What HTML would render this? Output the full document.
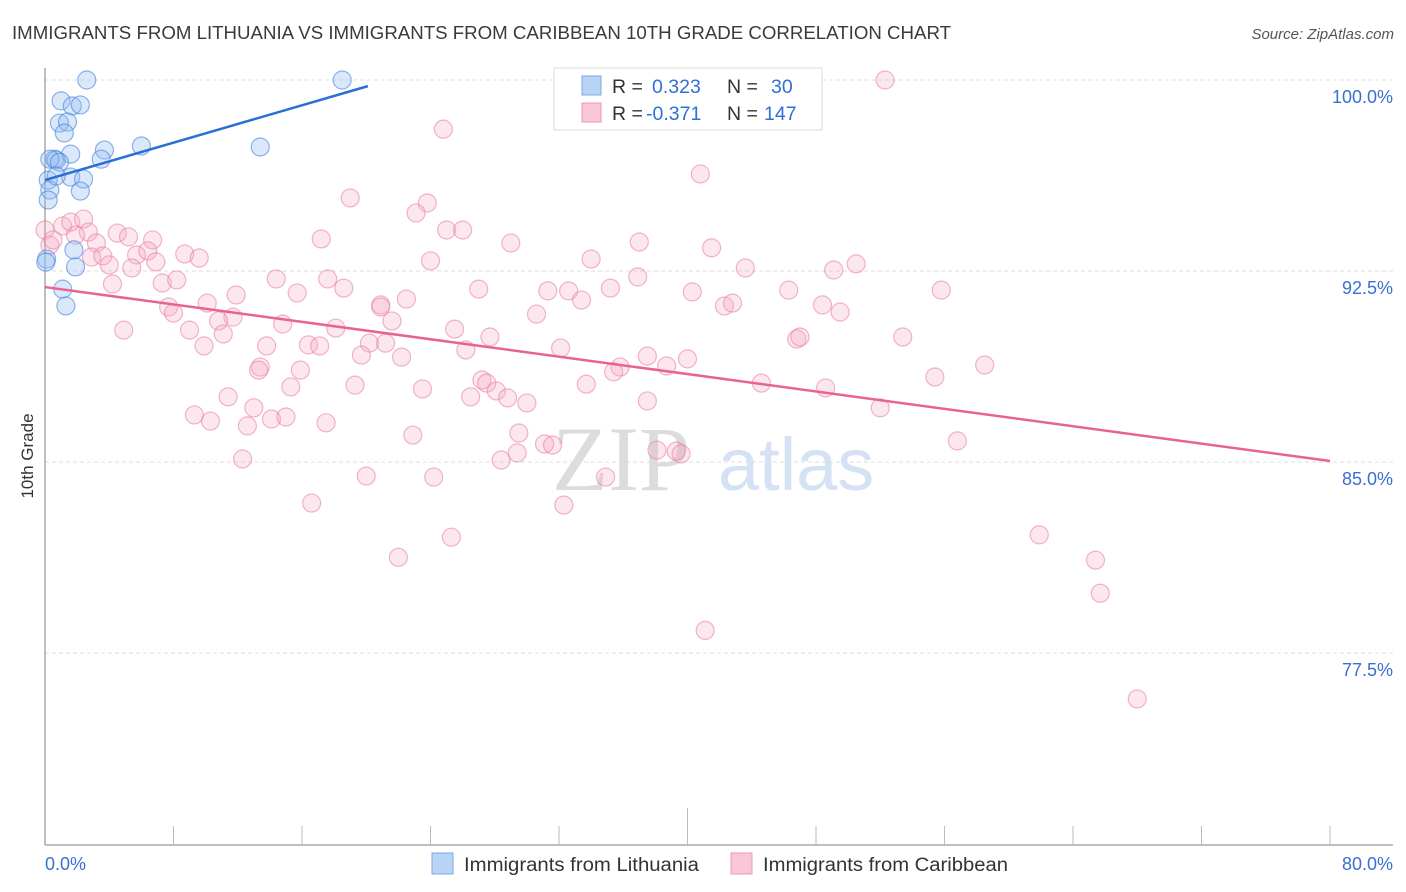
<!DOCTYPE html>
<html><head><meta charset="utf-8">
<style>
body{margin:0;background:#fff;font-family:"Liberation Sans",sans-serif;}
svg{display:block}
</style></head>
<body>
<svg id="chart" width="1406" height="892" xmlns="http://www.w3.org/2000/svg">
<text x="12" y="39" font-size="18" fill="#3a3a3a" textLength="939" lengthAdjust="spacingAndGlyphs">IMMIGRANTS FROM LITHUANIA VS IMMIGRANTS FROM CARIBBEAN 10TH GRADE CORRELATION CHART</text>
<text x="1394" y="39" font-size="15" fill="#555" text-anchor="end" font-style="italic">Source: ZipAtlas.com</text>
<g>
<text x="552" y="490" font-size="92" fill="#dcdcdc" font-family="Liberation Serif,serif">ZIP</text>
<text x="718" y="490" font-size="74" fill="#d4e2f4">atlas</text>
</g>
<g id="grid"></g>
<g id="axes"></g>
<g id="pts"></g>
<text transform="translate(33,456) rotate(-90)" font-size="17" fill="#333" text-anchor="middle">10th Grade</text>
<g>
<rect x="554" y="68" width="268" height="62" fill="#fff" stroke="#ddd"/>
<rect x="582" y="76" width="19" height="19" fill="#b8d4f5" stroke="#7aaae6"/>
<rect x="582" y="103" width="19" height="19" fill="#f9c6d6" stroke="#ec9ab5"/>
<text x="612" y="93" font-size="19.5" fill="#333">R = <tspan fill="#2f6fd6" x="652">0.323</tspan><tspan x="727">N = </tspan><tspan fill="#2f6fd6" x="771">30</tspan></text>
<text x="612" y="120" font-size="19.5" fill="#333">R = <tspan fill="#2f6fd6" x="646">-0.371</tspan><tspan x="727">N = </tspan><tspan fill="#2f6fd6" x="764">147</tspan></text>
</g>
<g>
<rect x="432" y="853" width="21" height="21" fill="#b8d4f5" stroke="#7aaae6"/>
<text x="464" y="871" font-size="19" fill="#333" textLength="235" lengthAdjust="spacingAndGlyphs">Immigrants from Lithuania</text>
<rect x="731" y="853" width="21" height="21" fill="#f9c6d6" stroke="#ec9ab5"/>
<text x="763" y="871" font-size="19" fill="#333" textLength="245" lengthAdjust="spacingAndGlyphs">Immigrants from Caribbean</text>
</g>
</svg>
<script>
const yTicks=[100,92.5,85,77.5];
const yTickLabels=["100.0%","92.5%","85.0%","77.5%"];
const xTickLabels=["0.0%","80.0%"];
const blueX=[2.6,18.5,1.0,1.7,2.2,0.9,1.4,1.2,3.7,6.0,13.4,1.6,3.5,0.6,0.7,0.3,0.9,0.2,1.6,2.4,0.3,2.2,0.2,0.1,1.8,1.9,1.1,1.3,0.05,0.7];
const blueY=[100,100,99.18,98.98,99.02,98.31,98.35,97.92,97.25,97.41,97.37,97.09,96.89,96.89,96.86,96.89,96.77,96.07,96.19,96.11,95.68,95.64,95.29,92.97,93.33,92.66,91.79,91.13,92.85,96.23];
const pinkX=[52.3,24.8,40.8,19.0,23.8,23.1,25.0,26.0,0.0,1.1,1.6,2.4,2.7,1.9,4.5,5.2,6.7,3.2,0.3,0.5,17.2,29.0,37.0,41.5,8.7,9.6,2.9,3.6,5.7,6.4,6.9,4.0,5.4,24.0,34.0,43.6,49.1,50.5,14.4,17.6,18.6,7.3,8.2,4.2,15.7,27.0,31.3,32.6,35.2,36.9,40.3,46.3,55.8,11.9,10.1,7.7,8.0,20.9,22.5,20.9,30.6,33.4,42.3,42.8,48.4,49.5,11.7,10.8,9.0,4.9,11.1,14.8,18.1,21.6,25.5,27.7,16.4,17.1,13.8,9.9,20.2,21.2,19.7,22.2,26.2,32.1,37.5,40.0,35.8,35.4,38.7,46.8,47.0,53.4,13.4,13.3,15.9,15.3,33.7,27.2,27.5,28.1,28.8,19.3,23.5,26.5,30.0,11.4,13.0,9.3,10.3,14.1,15.0,37.5,44.6,48.6,55.4,58.5,52.0,17.5,29.5,12.6,22.9,31.1,31.6,29.4,28.4,12.3,38.1,39.3,39.6,56.8,20.0,24.2,34.9,16.6,32.3,25.3,22.0,61.9,65.4,65.7,41.1,68.0];
const pinkY=[100,98.07,96.31,95.37,95.17,94.78,94.11,94.11,94.11,94.27,94.42,94.54,94.03,93.91,93.99,93.84,93.72,93.60,93.52,93.72,93.76,93.60,93.64,93.41,93.17,93.01,93.05,93.09,93.13,93.29,92.86,92.74,92.62,92.90,92.97,92.62,92.54,92.78,92.19,92.19,91.83,92.03,92.15,91.99,91.64,91.79,91.72,91.72,91.83,92.27,91.68,91.75,91.75,91.56,91.24,91.09,90.85,91.17,91.40,91.09,90.81,91.36,91.13,91.24,91.17,90.89,90.69,90.54,90.18,90.18,90.03,90.42,90.26,90.54,90.22,89.91,89.60,89.56,89.56,89.56,89.67,89.67,89.20,89.12,89.40,89.48,89.16,89.05,88.73,88.54,88.77,89.83,89.91,89.91,88.73,88.61,88.61,87.95,88.06,88.22,88.10,87.79,87.52,88.02,87.87,87.56,87.32,87.56,87.13,86.85,86.61,86.69,86.77,87.40,88.10,87.91,88.34,88.81,87.13,86.54,86.14,86.42,86.06,85.71,85.67,85.36,85.08,85.12,85.47,85.43,85.32,85.83,84.45,84.41,84.41,83.39,83.31,82.05,81.26,82.14,81.15,79.85,78.39,75.70];
const blueTrend=[0,96.07,20.1,99.76];
const pinkTrend=[0,91.87,80,85.04];

const NS="http://www.w3.org/2000/svg";
const X0=45,X1=1330,Y100=80,PXPER=25.47,YB=845;
const sx=v=>X0+(X1-X0)*v/80;
const sy=v=>Y100+(100-v)*PXPER;
function mk(tag,attrs,parent){const e=document.createElementNS(NS,tag);for(const k in attrs)e.setAttribute(k,attrs[k]);parent.appendChild(e);return e;}
const grid=document.getElementById('grid'),axes=document.getElementById('axes'),pts=document.getElementById('pts');
yTicks.forEach((t,i)=>{
  const l=mk('line',{x1:X0,x2:1393,y1:sy(t),y2:sy(t),stroke:'#ddd','stroke-dasharray':'4,3'},grid);
  
  
  const tx=mk('text',{x:1393,y:sy(t)+23,'font-size':18,fill:'#3a6fd2','text-anchor':'end'},axes);
  tx.textContent=yTickLabels[i];
  
  
});
mk('line',{x1:X0,x2:X0,y1:68,y2:YB,stroke:'#aaa','stroke-width':1.5},axes);
mk('line',{x1:X0,x2:1393,y1:YB,y2:YB,stroke:'#aaa','stroke-width':1.5},axes);
for(let i=1;i<=10;i++){const x=sx(i*8);mk('line',{x1:x,x2:x,y1:i==5?808:826,y2:YB,stroke:'#bbb'},axes);}
const xl0=mk('text',{x:45,y:870,'font-size':18,fill:'#3a6fd2'},axes);xl0.textContent=xTickLabels[0];


const xl1=mk('text',{x:1393,y:870,'font-size':18,fill:'#3a6fd2','text-anchor':'end'},axes);xl1.textContent=xTickLabels[1];


pinkX.forEach((v,i)=>{
  const c=mk('circle',{cx:sx(v),cy:sy(pinkY[i]),r:9,fill:'rgba(246,170,195,0.28)',stroke:'rgba(232,120,160,0.55)','stroke-width':1.2},pts);
  
  
});
blueX.forEach((v,i)=>{
  const c=mk('circle',{cx:sx(v),cy:sy(blueY[i]),r:9,fill:'rgba(150,190,240,0.35)',stroke:'rgba(70,130,220,0.6)','stroke-width':1.2},pts);
  
  
});
const bt=mk('line',{x1:sx(blueTrend[0]),y1:sy(blueTrend[1]),x2:sx(blueTrend[2]),y2:sy(blueTrend[3]),stroke:'#2a6fd6','stroke-width':2.5},pts);


const pt=mk('line',{x1:sx(pinkTrend[0]),y1:sy(pinkTrend[1]),x2:sx(pinkTrend[2]),y2:sy(pinkTrend[3]),stroke:'#e8648f','stroke-width':2.5},pts);


</script>
</body></html>
